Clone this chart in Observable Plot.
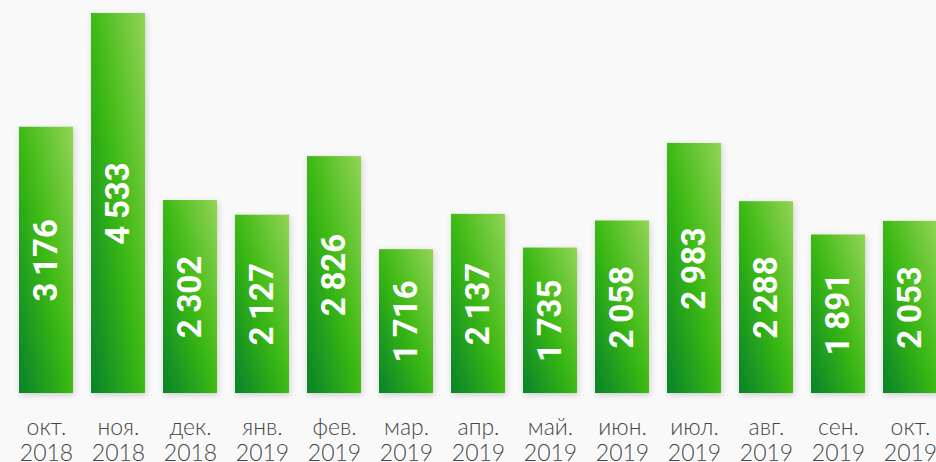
<!DOCTYPE html>
<html>
<head>
<meta charset="utf-8">
<script src="https://cdn.jsdelivr.net/npm/d3@7"></script>
<script src="https://cdn.jsdelivr.net/npm/@observablehq/plot@0.6"></script>
<style>
  html, body { margin: 0; padding: 0; background: #f9f9f9; overflow: hidden; }
  #chart svg { background: #f9f9f9; display: block; }
</style>
</head>
<body>
<div id="chart"></div>
<script>
const months = ["окт.", "ноя.", "дек.", "янв.", "фев.", "мар.", "апр.", "май.", "июн.", "июл.", "авг.", "сен.", "окт."];
const years = ["2018", "2018", "2018", "2019", "2019", "2019", "2019", "2019", "2019", "2019", "2019", "2019", "2019"];
const values = [3176, 4533, 2302, 2127, 2826, 1716, 2137, 1735, 2058, 2983, 2288, 1891, 2053];

const data = months.map((m, i) => ({key: i, value: values[i]}));
const fmt = v => d3.format(",")(v).replace(/,/g, "\u2009");

const defs = () => {
  const d = d3.create("svg:defs");
  const g = d.append("linearGradient").attr("id", "barGrad")
    .attr("x1", 0).attr("y1", 1).attr("x2", 1).attr("y2", 0);
  g.append("stop").attr("offset", "0%").attr("stop-color", "#06832a");
  g.append("stop").attr("offset", "50%").attr("stop-color", "#3cb913");
  g.append("stop").attr("offset", "100%").attr("stop-color", "#93d455");
  const f = d.append("filter").attr("id", "barShadow")
    .attr("x", "-30%").attr("y", "-10%").attr("width", "160%").attr("height", "120%");
  f.append("feDropShadow").attr("dx", 1).attr("dy", 2).attr("stdDeviation", 3)
    .attr("flood-color", "#000").attr("flood-opacity", 0.18);
  return d.node();
};

const chart = Plot.plot({
  width: 936,
  height: 462,
  marginTop: 13,
  marginBottom: 69,
  marginLeft: 9,
  marginRight: -11,
  style: {background: "#f9f9f9"},
  x: {type: "band", domain: d3.range(months.length), paddingInner: 0.25, paddingOuter: 0.125, label: null},
  y: {domain: [0, 4533], axis: null},
  marks: [
    defs,
    Plot.barY(data, {x: "key", y: "value", fill: "url(#barGrad)"}),
    Plot.text(data, {
      x: "key", y: d => d.value / 2, text: d => fmt(d.value),
      rotate: -90, fill: "white", fontSize: 33, fontWeight: 700,
      fontFamily: "Roboto, 'Open Sans', sans-serif", textAnchor: "middle", lineAnchor: "middle"
    }),
    Plot.axisX({
      tickSize: 0, tickPadding: 22.5,
      tickFormat: i => months[i] + "\n" + years[i],
      fontSize: 23, lineHeight: 1.15, fill: "#454545",
      fontFamily: "Lato, 'Open Sans', sans-serif", fontWeight: 300,
      label: null
    })
  ]
});
chart.querySelectorAll("g[aria-label='bar']")[0].setAttribute("filter", "url(#barShadow)");
document.getElementById("chart").appendChild(chart);
</script>
</body>
</html>
